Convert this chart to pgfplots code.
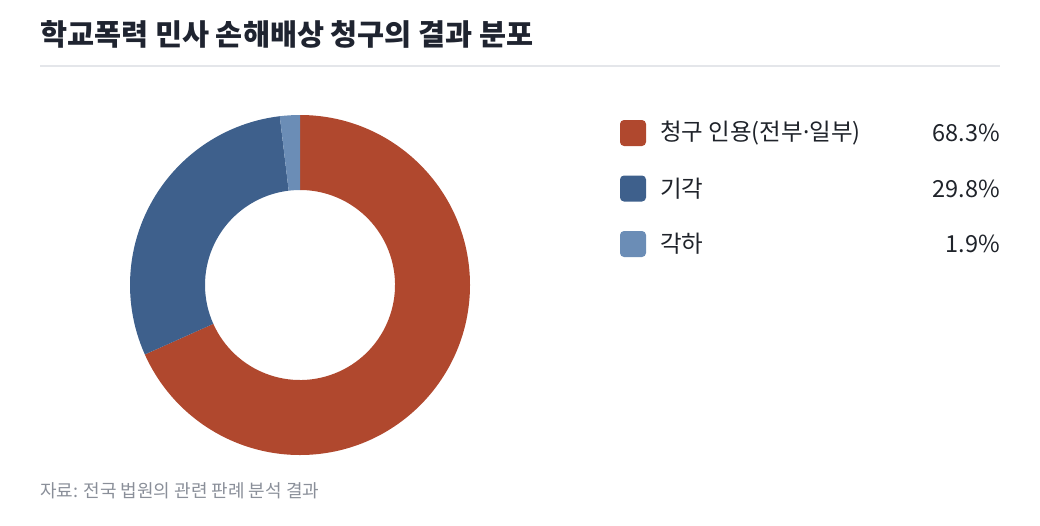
\documentclass[border=0pt]{standalone}
\usepackage{pgfplots}
\usepackage{pgfplotstable}
\pgfplotsset{compat=1.18}
\usepackage{fontspec}
\setmainfont{Noto Sans CJK KR}
\newfontfamily\latinfont{Noto Sans}

\definecolor{sliceA}{HTML}{B0482E}
\definecolor{sliceB}{HTML}{3E608C}
\definecolor{sliceC}{HTML}{6B8DB6}
\definecolor{titlecol}{HTML}{1F2430}
\definecolor{textcol}{HTML}{1F232A}
\definecolor{notecol}{HTML}{8A8F99}
\definecolor{rulecol}{HTML}{E4E6EA}

% share of cases (%)
\pgfplotstableread[col sep=comma]{
label,value,color
청구 인용(전부{\latinfont ·}일부),68.3,sliceA
기각,29.8,sliceB
각하,1.9,sliceC
}\donut

\begin{document}
\begin{tikzpicture}
\begin{axis}[
    at={(0,0)}, anchor=south west,
    width=1040pt, height=525pt, scale only axis,
    xmin=0, xmax=1040, ymin=0, ymax=525,
    y dir=reverse,
    hide axis, clip=false,
    ]
    \path (axis cs:0,0) (axis cs:1040,525);
    \node[anchor=west, inner sep=0pt, text=titlecol,
          font=\fontsize{29.4}{33}\selectfont\bfseries]
        at (axis cs:40,34) {학교폭력 민사 손해배상 청구의 결과 분포};
    \draw[rulecol, line width=1.5pt] (axis cs:40,66) -- (axis cs:1000,66);

    \gdef\angstart{90}
    \pgfplotsforeachungrouped \i in {0,1,2}{%
        \pgfplotstablegetelem{\i}{value}\of\donut \let\val\pgfplotsretval
        \pgfplotstablegetelem{\i}{color}\of\donut \let\col\pgfplotsretval
        \pgfplotstablegetelem{\i}{label}\of\donut \let\lab\pgfplotsretval
        \pgfmathsetmacro\angend{\angstart-3.6*\val}
        \pgfmathsetmacro\xa{300+170*cos(\angstart)}
        \pgfmathsetmacro\ya{285-170*sin(\angstart)}
        \pgfmathsetmacro\xb{300+95*cos(\angend)}
        \pgfmathsetmacro\yb{285-95*sin(\angend)}
        \pgfmathsetmacro\ly{133+55.5*\i}
        \pgfmathsetmacro\lyt{\ly-13}
        \pgfmathsetmacro\lyb{\ly+13}
        \edef\temp{%
            \noexpand\fill[\col] (axis cs:\xa,\ya)
                arc[start angle=\angstart, end angle=\angend, radius=170pt]
                -- (axis cs:\xb,\yb)
                arc[start angle=\angend, end angle=\angstart, radius=95pt] -- cycle;
            \noexpand\fill[\col, rounded corners=4pt]
                (axis cs:620,\lyt) rectangle (axis cs:646,\lyb);
            \noexpand\node[anchor=west, inner sep=0pt, text=textcol,
                font=\noexpand\fontsize{23.5}{27}\noexpand\selectfont]
                at (axis cs:660,\ly) {\unexpanded\expandafter{\lab}};
            \noexpand\node[anchor=east, inner sep=0pt, text=textcol,
                font=\noexpand\fontsize{23.5}{27}\noexpand\selectfont]
                at (axis cs:1000,\ly) {\val\noexpand\%};
        }%
        \temp
        \global\let\angstart\angend
    }

    \node[anchor=west, inner sep=0pt, text=notecol,
          font=\fontsize{18}{21}\selectfont]
        at (axis cs:40,491) {자료: 전국 법원의 관련 판례 분석 결과};
\end{axis}
\end{tikzpicture}
\end{document}
